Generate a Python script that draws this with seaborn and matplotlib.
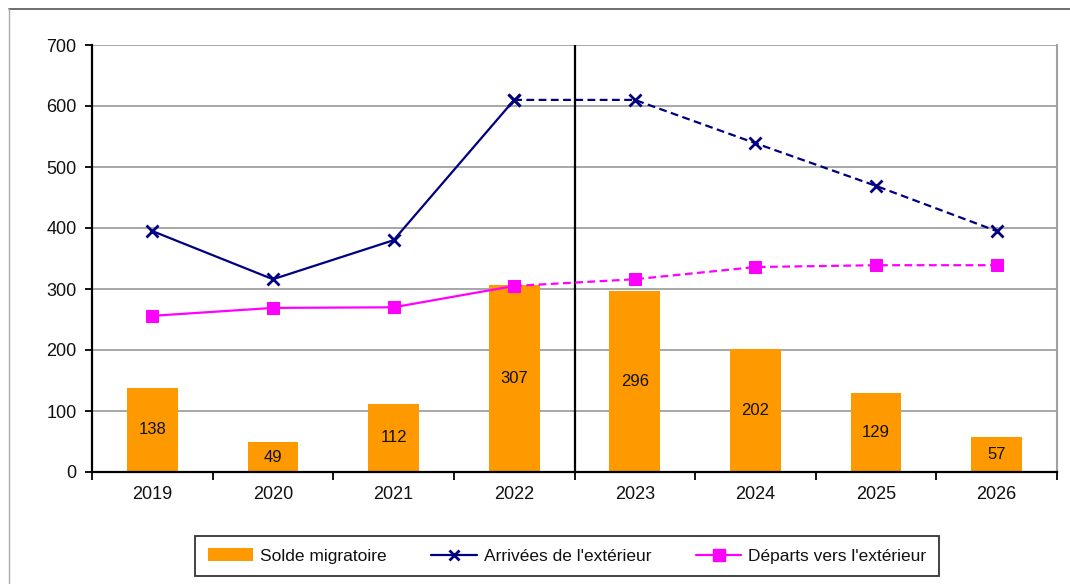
import matplotlib
matplotlib.use("Agg")
import matplotlib.pyplot as plt
import seaborn as sns
import pandas as pd
from matplotlib.lines import Line2D
from matplotlib.patches import Patch

years = ["2019", "2020", "2021", "2022", "2023", "2024", "2025", "2026"]
solde = [138, 49, 112, 307, 296, 202, 129, 57]
arrivees = [395, 316, 380, 610, 610, 539, 469, 395]
departs = [256, 269, 270, 305, 316, 336, 339, 339]
split = 3  # index of 2022: solid up to here, dashed after

sns.set_theme(style="white")
plt.rcParams['font.family'] = ['Liberation Sans', 'DejaVu Sans']

fig = plt.figure(figsize=(10.7, 5.84), dpi=100)
ax = fig.add_axes([92/1070, 1-472/584, (1057-92)/1070, (472-45)/584])

df = pd.DataFrame({"year": years, "solde": solde, "arr": arrivees, "dep": departs})
df["idx"] = range(len(years))

sns.barplot(data=df, x="year", y="solde", color="#FF9900", saturation=1, width=0.42,
            linewidth=0, edgecolor="none", ax=ax, zorder=2)
for i, v in enumerate(solde):
    ax.text(i, v/2, str(v), ha="center", va="center", fontsize=12, color="#111111", zorder=5)

navy = "#000080"
mag = "#FF00FF"
solid = df[df.idx <= split]
dashed = df[df.idx >= split]
kw_arr = dict(color=navy, lw=1.6, marker="x", markersize=8, mew=2, mec=navy, mfc=navy, ax=ax, zorder=4)
kw_dep = dict(color=mag, lw=1.6, marker="s", markersize=9, mec=mag, mfc=mag, ax=ax, zorder=4)
sns.lineplot(data=solid, x="idx", y="arr", **kw_arr)
sns.lineplot(data=dashed, x="idx", y="arr", ls=(0, (3.5, 2)), **kw_arr)
sns.lineplot(data=solid, x="idx", y="dep", **kw_dep)
sns.lineplot(data=dashed, x="idx", y="dep", ls=(0, (3.5, 2)), **kw_dep)

ax.axvline(split + 0.5, color="black", lw=1.6, zorder=3)

ax.set_xlim(-0.5, len(years) - 0.5)
ax.set_ylim(0, 700)
ax.set_yticks(range(0, 701, 100))
ax.set_xticks(range(len(years)))
ax.set_xticklabels(years)
ax.set_xlabel("")
ax.set_ylabel("")
ax.yaxis.grid(True, color="#A0A0A0", lw=1.3)
ax.set_axisbelow(True)

for s in ["left", "bottom"]:
    ax.spines[s].set_color("black")
    ax.spines[s].set_linewidth(1.6)
ax.spines["top"].set_visible(False)
ax.spines["right"].set_color("#A0A0A0")
ax.spines["right"].set_linewidth(1.5)

ax.tick_params(axis="y", which="major", length=5, width=1.3, color="black", direction="out",
               labelsize=13, left=True, pad=6, labelcolor="#111111")
ax.tick_params(axis="x", which="major", length=0, labelsize=13, pad=10, labelcolor="#111111")
ax.set_xticks([i + 0.5 for i in range(-1, len(years))], minor=True)
ax.tick_params(axis="x", which="minor", length=6, width=1.3, color="black", direction="out", bottom=True)

handles = [
    Patch(facecolor="#FF9900", edgecolor="none", label="Solde migratoire"),
    Line2D([], [], color=navy, lw=1.6, marker="x", markersize=7, mew=2, label="Arrivées de l'extérieur"),
    Line2D([], [], color=mag, lw=1.6, marker="s", markersize=9, label="Départs vers l'extérieur"),
]
leg = fig.legend(handles=handles, loc="center", bbox_to_anchor=(567/1070, 1-556/584), ncol=3,
                 fontsize=12.5, frameon=True, fancybox=False, edgecolor="black",
                 columnspacing=2.6, handlelength=2.6, handletextpad=0.4, borderpad=0.7,
                 borderaxespad=0)
leg.get_frame().set_linewidth(1.3)
leg.get_frame().set_boxstyle("square", pad=0)
for t in leg.get_texts():
    t.set_color("#111111")

# outer border (top and left)
fig.add_artist(Line2D([9/1070, 1], [1-9/584, 1-9/584], color="#555555", lw=1.2, transform=fig.transFigure))
fig.add_artist(Line2D([9/1070, 9/1070], [0, 1-9/584], color="#AAAAAA", lw=1.0, transform=fig.transFigure))

fig.savefig("out.png", dpi=100)
